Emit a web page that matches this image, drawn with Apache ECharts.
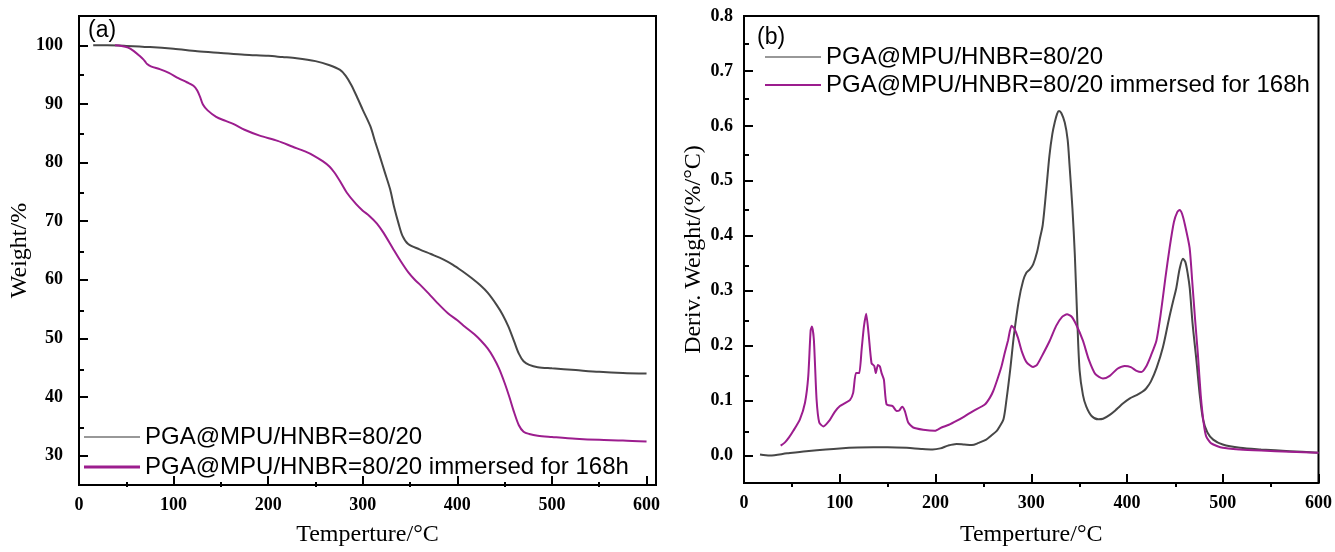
<!DOCTYPE html>
<html>
<head>
<meta charset="utf-8">
<script src="https://cdn.jsdelivr.net/npm/echarts@6/dist/echarts.min.js"></script>
<style>
  html, body { margin: 0; padding: 0; background: #fff; }
  #chart { width: 1335px; height: 552px; }
</style>
</head>
<body>
<div id="chart"></div>
<script>
// series names
const namePlain = 'PGA@MPU/HNBR=80/20'
const nameImmersed = 'PGA@MPU/HNBR=80/20 immersed for 168h'

// (a) TGA, plain sample
const tgaTempPlain = [15, 30, 50, 75, 100, 125, 150, 175, 200, 215, 230, 250, 265, 276, 282, 288, 295, 300, 308, 313, 318, 323, 329, 333, 338, 342, 348, 360, 372, 385, 395, 405, 415, 424, 432, 442, 448, 454, 460, 465, 470, 476, 485, 500, 525, 550, 575, 600]
const tgaWeightPlain = [100, 100, 99.9, 99.7, 99.4, 99.0, 98.7, 98.4, 98.2, 98.0, 97.8, 97.3, 96.6, 95.8, 94.8, 93.2, 90.8, 89.0, 86.2, 83.6, 81.1, 78.5, 75.4, 72.5, 69.5, 67.5, 66.1, 65.2, 64.4, 63.5, 62.6, 61.5, 60.3, 59.1, 57.8, 55.6, 54.0, 52.0, 49.5, 47.4, 46.1, 45.5, 45.1, 44.9, 44.6, 44.3, 44.1, 44.0]

// (a) TGA, immersed sample
const tgaTempImm = [38, 45, 52, 58, 64, 68, 70, 72, 76, 86, 95, 105, 114, 121, 125, 128, 131, 136, 145, 155, 163, 175, 191, 210, 226, 239, 248, 258, 265, 270, 276, 283, 293, 300, 307, 315, 322, 332, 340, 348, 355, 361, 370, 378, 390, 400, 408, 418, 425, 432, 438, 444, 450, 455, 460, 465, 470, 476, 485, 500, 525, 550, 575, 600]
const tgaWeightImm = [100, 99.9, 99.6, 99.0, 98.2, 97.6, 97.2, 96.8, 96.4, 95.9, 95.3, 94.4, 93.7, 93.1, 92.3, 91.2, 89.9, 88.9, 87.8, 87.1, 86.6, 85.6, 84.6, 83.7, 82.7, 81.9, 81.2, 80.2, 79.3, 78.3, 76.8, 74.9, 72.9, 71.8, 70.9, 69.6, 68.0, 65.3, 63.2, 61.3, 60.0, 59.1, 57.6, 56.2, 54.3, 53.1, 52.0, 50.7, 49.6, 48.3, 46.8, 44.9, 42.4, 40.0, 37.4, 35.2, 34.1, 33.7, 33.4, 33.2, 32.9, 32.7, 32.6, 32.4]

// (b) DTG, plain sample
const dtgTempPlain = [16.7, 27, 45, 65, 100, 135, 150, 170, 185, 197, 205, 213, 222, 230, 238, 245, 253, 258, 264, 267, 271, 274, 278, 282, 287, 291.5, 295, 298.5, 302, 306, 309, 312, 316, 319, 322, 324.5, 327, 329, 331.5, 335, 338, 340, 343, 345.5, 348, 350.5, 354, 357.5, 363, 370, 375, 382, 389, 396, 403, 410, 416, 420, 425, 431, 437.5, 444, 448, 451.5, 455, 458.5, 461, 463.5, 465.5, 468.5, 472.5, 476, 479.5, 484, 490, 500, 518, 540, 570, 600]
const dtgRatePlain = [0.002, 0.000, 0.004, 0.008, 0.013, 0.015, 0.015, 0.014, 0.012, 0.011, 0.013, 0.018, 0.021, 0.020, 0.019, 0.023, 0.029, 0.036, 0.045, 0.053, 0.066, 0.100, 0.156, 0.220, 0.282, 0.318, 0.333, 0.339, 0.348, 0.370, 0.395, 0.420, 0.490, 0.546, 0.585, 0.606, 0.622, 0.627, 0.623, 0.606, 0.575, 0.528, 0.450, 0.366, 0.250, 0.155, 0.110, 0.089, 0.072, 0.066, 0.067, 0.074, 0.084, 0.095, 0.104, 0.110, 0.116, 0.122, 0.135, 0.160, 0.197, 0.250, 0.280, 0.305, 0.340, 0.358, 0.352, 0.330, 0.305, 0.240, 0.173, 0.110, 0.065, 0.042, 0.029, 0.020, 0.014, 0.011, 0.008, 0.005]

// (b) DTG, immersed sample
const dtgTempImm = [38.3, 42.8, 47, 51.5, 58.4, 63.7, 67.1, 69.6, 71, 73, 75.8, 78.6, 82.8, 89.7, 95, 100.2, 105, 110.6, 114, 116.9, 120.3, 122.8, 125.2, 127.6, 130.1, 133.2, 136, 137.7, 139.8, 141.9, 143.7, 146.1, 148.9, 155.2, 159.3, 162.1, 165.2, 168, 171.5, 176.7, 187.1, 199.3, 206.3, 214, 221.9, 230, 239.3, 251.5, 256.7, 260.2, 264.5, 268.9, 272.5, 275.8, 279.3, 282, 286, 290, 295, 301.8, 306, 312, 319.3, 326, 332, 337.4, 342, 347, 354, 360, 367, 374.9, 382, 390, 397.6, 404, 410, 415, 420, 425, 430.7, 435, 440, 444.5, 449, 452.5, 455, 457.5, 460.5, 465.4, 468, 471, 474, 477, 480, 482.7, 488, 500, 517.6, 540, 570, 600]
const dtgRateImm = [0.018, 0.024, 0.033, 0.045, 0.066, 0.096, 0.144, 0.228, 0.235, 0.210, 0.102, 0.060, 0.053, 0.065, 0.080, 0.090, 0.095, 0.101, 0.114, 0.150, 0.150, 0.192, 0.234, 0.258, 0.222, 0.168, 0.163, 0.150, 0.165, 0.162, 0.150, 0.138, 0.093, 0.090, 0.081, 0.082, 0.089, 0.081, 0.060, 0.051, 0.047, 0.045, 0.051, 0.056, 0.063, 0.071, 0.081, 0.093, 0.105, 0.117, 0.138, 0.162, 0.188, 0.210, 0.236, 0.232, 0.215, 0.190, 0.170, 0.161, 0.165, 0.184, 0.209, 0.236, 0.252, 0.257, 0.253, 0.238, 0.209, 0.175, 0.148, 0.140, 0.145, 0.158, 0.163, 0.161, 0.154, 0.152, 0.162, 0.182, 0.209, 0.255, 0.322, 0.378, 0.425, 0.443, 0.447, 0.440, 0.420, 0.378, 0.320, 0.250, 0.185, 0.110, 0.060, 0.035, 0.022, 0.014, 0.011, 0.009, 0.007, 0.005]

// tick values
const tempMajor = [0, 100, 200, 300, 400, 500, 600]
const tempMinor = [50, 150, 250, 350, 450, 550]
const weightMajor = [30, 40, 50, 60, 70, 80, 90, 100]
const weightMinor = [35, 45, 55, 65, 75, 85, 95]
const rateMajor = [0, 0.1, 0.2, 0.3, 0.4, 0.5, 0.6, 0.7, 0.8]
const rateMinor = [0.05, 0.15, 0.25, 0.35, 0.45, 0.55, 0.65, 0.75]

const grayColor = '#474747'
const purpleColor = '#9c1d8e'

const zip = (xs, ys) => xs.map((x, i) => [x, ys[i]])

const labelFont = {
	fontFamily: 'Liberation Serif',
	fontWeight: 'bold',
	fontSize: 18,
	color: '#000'
}
const nameFont = {
	fontFamily: 'Liberation Serif',
	fontSize: 24,
	color: '#000'
}

// main axis: line, long ticks, labels
function majorAxis(gridIndex, min, max, ticks, extra) {
	return Object.assign({
		type: 'value',
		gridIndex: gridIndex,
		min: min,
		max: max,
		nameLocation: 'middle',
		nameTextStyle: nameFont,
		axisLine: { show: true, onZero: false, lineStyle: { color: '#000', width: 2 } },
		axisTick: { show: true, inside: true, length: 9, customValues: ticks, lineStyle: { color: '#000', width: 2 } },
		axisLabel: Object.assign({ customValues: ticks }, labelFont),
		splitLine: { show: false }
	}, extra)
}
// axis in an overlay grid, only for the short ticks
function minorAxis(gridIndex, min, max, ticks) {
	return {
		type: 'value',
		gridIndex: gridIndex,
		min: min,
		max: max,
		axisLine: { show: false, onZero: false },
		axisTick: { show: true, inside: true, length: 5, customValues: ticks, lineStyle: { color: '#000', width: 2 } },
		axisLabel: { show: false },
		splitLine: { show: false }
	}
}

const legendText = {
	fontFamily: 'Liberation Sans',
	fontSize: 24,
	lineHeight: 28,
	color: '#000'
}
// one legend per entry so every line sample can get its own thickness
function legendEntry(name, color, width, left, top) {
	return {
		left: left,
		top: top,
		padding: 0,
		icon: 'rect',
		itemWidth: 56,
		itemHeight: width,
		textStyle: legendText,
		data: [{ name: name, itemStyle: { color: color } }]
	}
}

const gridA = { left: 79, top: 16, width: 577, height: 471 }
const gridB = { left: 744, top: 16, width: 575, height: 471 }

const myChart = echarts.init(document.getElementById('chart'))
const option = {
	backgroundColor: '#fff',
	animation: false,
	title: [
		{ text: '(a)', left: 88, top: 19, padding: 0, textStyle: { fontFamily: 'Liberation Sans', fontSize: 23, fontWeight: 'normal', color: '#000' } },
		{ text: '(b)', left: 757, top: 26, padding: 0, textStyle: { fontFamily: 'Liberation Sans', fontSize: 23, fontWeight: 'normal', color: '#000' } }
	],
	legend: [
		legendEntry(namePlain, '#333333', 1, 84, 423),
		legendEntry(nameImmersed, purpleColor, 3, 84, 453),
		legendEntry(namePlain, '#333333', 1, 765, 43),
		legendEntry(nameImmersed, purpleColor, 2, 765, 71)
	],
	grid: [
		Object.assign({ show: true, borderColor: '#000', borderWidth: 2 }, gridA),
		Object.assign({ show: true, borderColor: '#000', borderWidth: 2 }, gridB),
		Object.assign({ show: false }, gridA),
		Object.assign({ show: false }, gridB)
	],
	xAxis: [
		majorAxis(0, 0, 610, tempMajor, { name: 'Temperture/°C', nameGap: 38, axisLabel: Object.assign({ customValues: tempMajor, margin: 11 }, labelFont) }),
		majorAxis(1, 0, 600, tempMajor, { name: 'Temperture/°C', nameGap: 40, axisLabel: Object.assign({ customValues: tempMajor, margin: 11 }, labelFont) }),
		minorAxis(2, 0, 610, tempMinor),
		minorAxis(3, 0, 600, tempMinor)
	],
	yAxis: [
		majorAxis(0, 25, 105, weightMajor, { name: 'Weight/%', nameGap: 42, axisLabel: Object.assign({ customValues: weightMajor, margin: 16 }, labelFont) }),
		majorAxis(1, -0.05, 0.8, rateMajor, {
			name: 'Deriv. Weight/(%/°C)',
			nameGap: 38,
			axisLabel: Object.assign({ customValues: rateMajor, margin: 11, formatter: (v) => Number(v).toFixed(1) }, labelFont)
		}),
		minorAxis(2, 25, 105, weightMinor),
		minorAxis(3, -0.05, 0.8, rateMinor)
	],
	series: [
		{
			name: namePlain,
			type: 'line',
			xAxisIndex: 0,
			yAxisIndex: 0,
			showSymbol: false,
			symbol: 'none',
			smooth: 0.3,
			lineStyle: { color: grayColor, width: 2 },
			itemStyle: { color: grayColor },
			data: zip(tgaTempPlain, tgaWeightPlain)
		},
		{
			name: nameImmersed,
			type: 'line',
			xAxisIndex: 0,
			yAxisIndex: 0,
			showSymbol: false,
			symbol: 'none',
			smooth: 0.3,
			lineStyle: { color: purpleColor, width: 2 },
			itemStyle: { color: purpleColor },
			data: zip(tgaTempImm, tgaWeightImm)
		},
		{
			name: namePlain,
			type: 'line',
			xAxisIndex: 1,
			yAxisIndex: 1,
			showSymbol: false,
			symbol: 'none',
			smooth: 0.3,
			lineStyle: { color: grayColor, width: 2 },
			itemStyle: { color: grayColor },
			data: zip(dtgTempPlain, dtgRatePlain)
		},
		{
			name: nameImmersed,
			type: 'line',
			xAxisIndex: 1,
			yAxisIndex: 1,
			showSymbol: false,
			symbol: 'none',
			smooth: 0.2,
			lineStyle: { color: purpleColor, width: 2 },
			itemStyle: { color: purpleColor },
			data: zip(dtgTempImm, dtgRateImm)
		}
	]
}
myChart.setOption(option)
</script>
</body>
</html>
